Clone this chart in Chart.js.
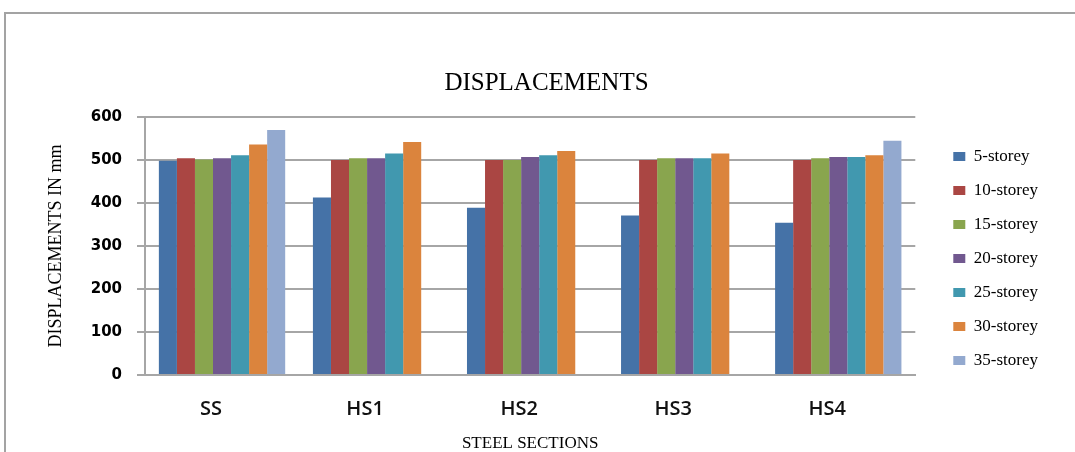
<!DOCTYPE html>
<html>
<head>
<meta charset="utf-8">
<script src="https://cdn.jsdelivr.net/npm/chart.js@4"></script>
<style>
body { margin: 0; background: #fff; }
#wrap { position: relative; width: 1075px; height: 452px; overflow: hidden; }
#frame { position: absolute; left: 4px; top: 12px; width: 1100px; height: 500px; border: 2px solid #a3a3a3; }
#box { position: absolute; left: 0; top: 0; width: 1075px; height: 452px; }
</style>
</head>
<body>
<div id="wrap">
  <div id="frame"></div>
  <div id="box"><canvas id="myChart"></canvas></div>
</div>
<script>
// data
let categories = ['SS', 'HS1', 'HS2', 'HS3', 'HS4'];
let seriesNames = ['5-storey', '10-storey', '15-storey', '20-storey', '25-storey', '30-storey', '35-storey'];
let storey5 = [498, 413, 389, 371, 354];
let storey10 = [504, 500, 500, 500, 500];
let storey15 = [501, 504, 500, 504, 504];
let storey20 = [504, 504, 507, 504, 507];
let storey25 = [511, 515, 511, 504, 507];
let storey30 = [536, 542, 521, 515, 511];
let storey35 = [570, null, null, null, 545];
let yTicks = [0, 100, 200, 300, 400, 500, 600];

let allSeries = [storey5, storey10, storey15, storey20, storey25, storey30, storey35];
let colors = ['#4572a7', '#aa4643', '#89a54e', '#71588f', '#4198af', '#db843d', '#93a9cf'];

let serif = "'Liberation Serif', 'Times New Roman', serif";

var datasets = allSeries.map(function (d, i) {
    return {
        label: seriesNames[i],
        data: d,
        backgroundColor: colors[i],
        borderWidth: 0,
        categoryPercentage: 0.82,
        barPercentage: 1.0
    };
});

var ctx = document.getElementById('myChart').getContext('2d');
var myChart = new Chart(ctx, {
    type: 'bar',
    data: { labels: categories, datasets: datasets },
    options: {
        responsive: true,
        maintainAspectRatio: false,
        animation: false,
        layout: { padding: { left: 45, right: 27, top: 0, bottom: 0 } },
        plugins: {
            title: {
                display: true,
                text: 'DISPLACEMENTS',
                color: '#000',
                font: { family: serif, size: 25, weight: 'normal' },
                padding: { top: 68, bottom: 19 }
            },
            legend: {
                position: 'right',
                align: 'start',
                // empty legend title only pushes the items down
                title: { display: true, text: ' ', font: { size: 10 }, padding: { top: 119, bottom: 0 } },
                labels: {
                    boxWidth: 12,
                    boxHeight: 9,
                    padding: 17,
                    color: '#000',
                    font: { family: serif, size: 17 }
                }
            },
            tooltip: { enabled: false }
        },
        scales: {
            x: {
                afterFit: function (s) { s.height = 77; },
                grid: { display: false, drawTicks: false },
                border: { display: true, color: '#a6a6a6', width: 2 },
                ticks: {
                    padding: 22,
                    labelOffset: -11,
                    color: '#111',
                    font: { family: "'Open Sans', sans-serif", size: 20, weight: '600' }
                },
                title: {
                    display: true,
                    text: 'STEEL SECTIONS',
                    color: '#000',
                    font: { family: serif, size: 17, lineHeight: 1.0 },
                    padding: { top: 13, bottom: 0 }
                }
            },
            y: {
                min: 0,
                max: 600,
                afterFit: function (s) { s.width = 100; },
                afterBuildTicks: function (s) { s.ticks = yTicks.map(function (v) { return { value: v }; }); },
                grid: { color: '#a6a6a6', lineWidth: 2, tickLength: 8 },
                border: { display: true, color: '#a6a6a6', width: 2 },
                ticks: {
                    padding: 15,
                    color: '#000',
                    font: { family: "'DejaVu Sans', sans-serif", size: 15, weight: 'bold' }
                },
                title: {
                    display: true,
                    text: 'DISPLACEMENTS IN mm',
                    color: '#000',
                    font: { family: serif, size: 18 },
                    padding: { top: 0, bottom: 0 }
                }
            },
            gap: {
                type: 'linear',
                position: 'right',
                display: true,
                afterFit: function (s) { s.width = 21; },
                grid: { display: false, drawTicks: false },
                border: { display: false },
                ticks: { display: false }
            }
        }
    }
});
</script>
</body>
</html>
